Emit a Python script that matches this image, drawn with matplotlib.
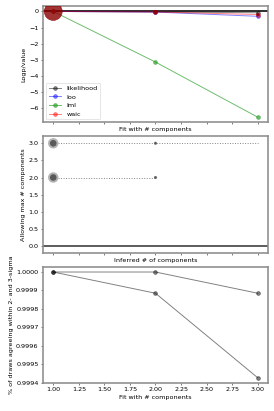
import matplotlib
matplotlib.use('Agg')
import matplotlib.pyplot as plt
import numpy as np

# fit with # components
ncomp = [1, 2, 3]

# log probability per criterion (relative to best)
logp_likelihood = [0.0, -0.03, -0.08]
logp_loo = [0.0, -0.04, -0.30]
logp_lml = [0.0, -3.13, -6.54]
logp_waic = [0.0, -0.03, -0.19]
best_size = [800, 30, 15]

# inferred number of components for each max allowed
max_allowed = [2, 3]
inferred_weight = {2: [180, 22], 3: [180, 22, 0]}

# fraction of draws agreeing within 2- and 3-sigma
agree_2sigma = [1.0, 1.0, 0.999885]
agree_3sigma = [1.0, 0.999885, 0.999427]

edge = '0.55'

fig, axes = plt.subplots(3, 1, figsize=(6, 9), dpi=274 / 6, sharex=True)
plt.subplots_adjust(left=0.157, right=0.978, top=0.985, bottom=0.068, hspace=0.12)

for ax in axes:
    for s in ax.spines.values():
        s.set_color(edge)
        s.set_linewidth(2.5)

# top: log probabilities
ax = axes[0]
ax.axhline(0, c='k', lw=2.5)
ax.plot(ncomp, logp_likelihood, marker='o', c='k', alpha=0.5, label='likelihood')
ax.plot(ncomp, logp_loo, marker='o', c='b', alpha=0.5, label='loo')
ax.plot(ncomp, logp_lml, marker='o', c='C2', alpha=0.7, label='lml')
ax.plot(ncomp, logp_waic, marker='o', c='r', alpha=0.5, label='waic')
ax.scatter(ncomp, logp_waic, s=best_size, c='darkred', alpha=0.8, zorder=5)
ax.set_ylabel('Logp/value')
ax.set_xlabel('Fit with # components')
ax.legend(loc='lower left')

# middle: inferred components
ax = axes[1]
ax.axhline(0, c='0.35', lw=3)
for m in max_allowed:
    xs = np.arange(1, m + 1)
    w = np.array(inferred_weight[m])
    ax.plot(xs, [m] * len(xs), ls=':', c='0.5', lw=1.5)
    ax.scatter(xs, [m] * len(xs), s=w, c='0.35',
               edgecolors='0.7', linewidths=np.where(w > 50, 3, 0.3), zorder=4)
ax.set_ylim(-0.2, 3.2)
ax.set_ylabel('Allowing max # components')
ax.set_xlabel('Inferred # of components')

# bottom: agreement
ax = axes[2]
ax.plot(ncomp, agree_2sigma, marker='o', c='k', alpha=0.5)
ax.plot(ncomp, agree_3sigma, marker='o', c='k', alpha=0.5)
ax.set_ylabel('% of draws agreeing within 2- and 3-sigma')
ax.set_xlabel('Fit with # components')
ax.xaxis.set_tick_params(labelbottom=True)

fig.savefig('out.png')
